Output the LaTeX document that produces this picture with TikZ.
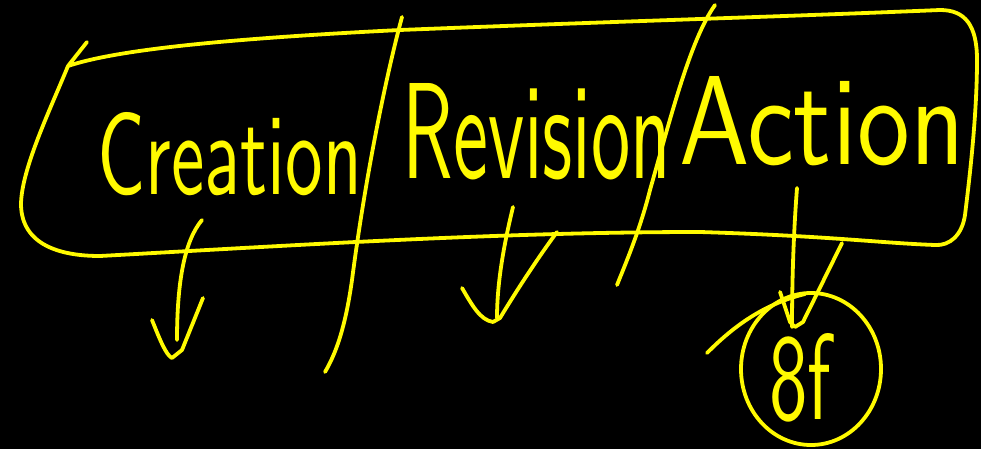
\documentclass[tikz,border=0pt]{standalone}
\usepackage{graphicx}
\definecolor{hl}{RGB}{255,250,0}
\begin{document}
\begin{tikzpicture}[x=1pt,y=-1pt,
  pen/.style={hl, line width=3.8pt, line cap=round, line join=round},
  hand/.style={inner sep=0pt, text=hl, font=\sffamily}]
\fill[black] (0,0) rectangle (981,449);
\useasboundingbox (0,0) rectangle (981,449);
% outer rounded box
\draw[pen] (87,42) -- (68,66)
  .. controls (110,52) and (200,40) .. (400,30)
  .. controls (600,22) and (800,16) .. (940,10)
  .. controls (965,10) and (977,25) .. (977,60)
  .. controls (977,120) and (968,190) .. (965,215)
  .. controls (962,235) and (950,246) .. (935,245)
  .. controls (880,243) and (830,236) .. (700,232)
  .. controls (500,232) and (300,245) .. (100,256)
  .. controls (60,256) and (22,245) .. (21,205)
  .. controls (21,170) and (50,110) .. (68,66);
% dividers
\draw[pen] (402,17) .. controls (385,80) and (365,180) .. (352,280)
  .. controls (345,330) and (335,355) .. (325,372);
\draw[pen] (715,5) .. controls (690,40) and (670,120) .. (650,190)
  .. controls (640,230) and (625,265) .. (617,285);
% labels
\node[hand] (creation) at (230,154) {\resizebox{264pt}{82pt}{Creation}};
\node[hand] (revision) at (537,132) {\resizebox{269pt}{95pt}{Revision}};
\node[hand] (action) at (822,121) {\resizebox{285pt}{88pt}{Action}};
% arrows
\coordinate (c1) at (202,220); \coordinate (c2) at (177,340);
\draw[pen] (c1) .. controls (185,240) and (177,280) .. (c2);
\draw[pen] (152,320) .. controls (160,340) and (166,355) .. (172,358) -- (182,350) -- (203,298);
\coordinate (r1) at (513,207); \coordinate (r2) at (497,318);
\draw[pen] (r1) .. controls (505,240) and (497,280) .. (r2);
\draw[pen] (462,288) .. controls (472,305) and (480,320) .. (493,322) -- (500,318) .. controls (520,285) and (540,255) .. (557,232);
\coordinate (a1) at (797,188); \coordinate (a2) at (792,327);
\draw[pen] (a1) .. controls (793,240) and (792,290) .. (a2);
\draw[pen] (780,292) -- (790,322) -- (795,327) -- (803,322) -- (842,243);
% circle
\draw[pen] (707,353) .. controls (730,330) and (760,305) .. (805,294);
\draw[pen] (811,369) ellipse [x radius=70, y radius=76];
\node[hand] (ef) at (800,378) {\resizebox{62pt}{86pt}{8f}};
\end{tikzpicture}
\end{document}
